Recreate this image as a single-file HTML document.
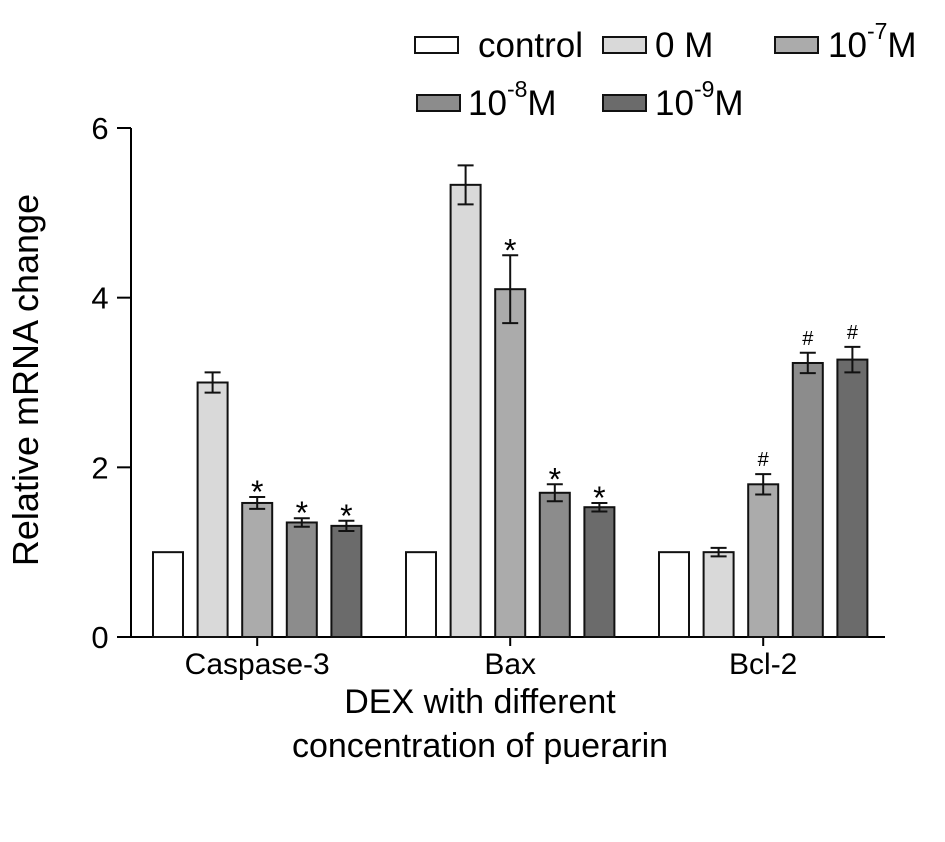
<!DOCTYPE html>
<html><head><meta charset="utf-8"><style>
html,body{margin:0;padding:0;background:#fff;}
svg{display:block;font-family:"Liberation Sans",sans-serif;}
</style></head><body>
<svg id="chart" width="945" height="842" viewBox="0 0 945 842">
<g id="legend"></g>
<g id="axes"></g>
<g id="bars"></g>
<text x="38" y="380" transform="rotate(-90 38 380)" text-anchor="middle" font-size="36">Relative mRNA change</text>
<text x="480" y="713" text-anchor="middle" font-size="34">DEX with different</text>
<text x="480" y="757" text-anchor="middle" font-size="34">concentration of puerarin</text>
</svg>
<script>
const categories = ["Caspase-3","Bax","Bcl-2"];
const seriesNames = ["control","0 M","10^-7 M","10^-8 M","10^-9 M"];
const control = [1, 1, 1];
const m0 = [3.0, 5.33, 1.0];
const m7 = [1.58, 4.1, 1.8];
const m8 = [1.35, 1.7, 3.23];
const m9 = [1.31, 1.53, 3.27];
const err0 = [0.12, 0.23, 0.05];
const err7 = [0.07, 0.4, 0.12];
const err8 = [0.05, 0.1, 0.12];
const err9 = [0.06, 0.05, 0.15];
const marks = [["","*","*","*"],["","*","*","*"],["","#","#","#"]];
const yTicks = [0, 2, 4, 6];

const NS="http://www.w3.org/2000/svg";
const colors=["#ffffff","#d9d9d9","#ababab","#8c8c8c","#6b6b6b"];
const series=[control,m0,m7,m8,m9];
const errs=[null,err0,err7,err8,err9];
const x0=131, y0=637, yTop=128, yMax=6;
const y=v=>y0-(v/yMax)*(y0-yTop);
const groupStart=i=>153+i*253;
const barX=(g,s)=>groupStart(g)+s*44.6;
const bw=30;
function mk(tag,attrs,parent){const e=document.createElementNS(NS,tag);for(const k in attrs)e.setAttribute(k,attrs[k]);parent.appendChild(e);return e;}
const axes=document.getElementById('axes'), bars=document.getElementById('bars'), legend=document.getElementById('legend');

let a=mk('line',{x1:x0,y1:y(yMax),x2:x0,y2:y0,stroke:'#000','stroke-width':2},axes);


a=mk('line',{x1:117,y1:y0,x2:885,y2:y0,stroke:'#000','stroke-width':2},axes);


yTicks.forEach(t=>{
  const l=mk('line',{x1:117,y1:y(t),x2:x0,y2:y(t),stroke:'#000','stroke-width':2},axes);
  
  
  const tx=mk('text',{x:100,y:y(t)+11,'text-anchor':'middle','font-size':31},axes);
  tx.textContent=t;
  
  
});
categories.forEach((c,g)=>{
  const cx=barX(g,2)+bw/2;
  const l=mk('line',{x1:cx,y1:y0,x2:cx,y2:y0+9,stroke:'#000','stroke-width':2},axes);
  
  
  const tx=mk('text',{x:cx,y:y0+37,'text-anchor':'middle','font-size':30},axes);
  tx.textContent=c;
  
  
  series.forEach((s,si)=>{
    const bx=barX(g,si), top=y(s[g]);
    const r=mk('rect',{x:bx,y:top,width:bw,height:y0-top,fill:colors[si],stroke:'#111','stroke-width':2},bars);
    
    
    if(errs[si]){
      const e=errs[si][g], cx2=bx+bw/2, hi=y(s[g]+e), lo=y(s[g]-e);
      const eb=mk('path',{d:`M${cx2},${hi}V${lo}M${cx2-8},${hi}H${cx2+8}M${cx2-8},${lo}H${cx2+8}`,stroke:'#111','stroke-width':2,fill:'none'},bars);
      
      
      const m=marks[g][si-1];
      if(m){
        const mt=mk('text',{x:cx2,y:hi-(m==='*'?-6:8),'text-anchor':'middle','font-size':m==='*'?32:20},bars);
        mt.textContent=m;
        
        
      }
    }
  });
});
const legPos=[[415,37,478,57],[603,37,655,57],[775,37,828,57],[417,95,468,115],[603,95,655,115]];
const legLabels=[["control",""],["0 M",""],["10","-7"],["10","-8"],["10","-9"]];
legPos.forEach((p,i)=>{
  const r=mk('rect',{x:p[0],y:p[1],width:43,height:16,fill:colors[i],stroke:'#111','stroke-width':2},legend);
  
  
  const t=mk('text',{x:p[2],y:p[3],'font-size':35},legend);
  
  
  if(legLabels[i][1]){
    t.appendChild(document.createTextNode(legLabels[i][0]));
    const sup=mk('tspan',{dy:-18,'font-size':23},t);sup.textContent=legLabels[i][1];
    const mm=mk('tspan',{dy:18,'font-size':35},t);mm.textContent="M";
  } else t.textContent=legLabels[i][0];
});
</script>
</body></html>
